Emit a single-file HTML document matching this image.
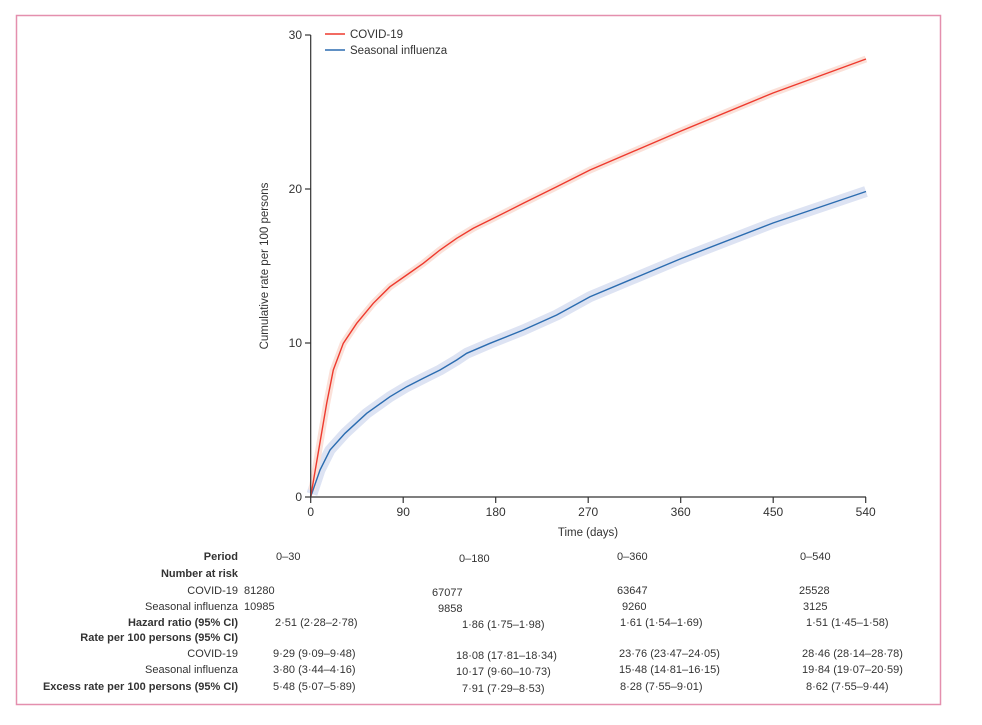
<!DOCTYPE html>
<html><head><meta charset="utf-8"><style>
body{margin:0;background:#fff;}
svg text{font-family:"Liberation Sans",sans-serif;fill:#333;}
</style></head><body>
<svg width="982" height="720" viewBox="0 0 982 720" xmlns="http://www.w3.org/2000/svg">
<rect x="16.5" y="15.5" width="924" height="689" fill="none" stroke="#e48fae" stroke-width="1.5"/>
<!-- bands -->
<polyline fill="none" stroke="#dde3f3" stroke-width="11" stroke-linejoin="round" points="312,494 320,470 330,450 345,433.3 366.7,413.3 390,396.7 406.7,386.7 423.3,378.3 440,370 456.7,360 466.7,353.3 490,343.3 523.3,330 556.7,315 590,296.7 681,258.6 773,223 866,191.5"/>
<polyline fill="none" stroke="#fbe1d9" stroke-width="7" stroke-linejoin="round" points="312,490 326.7,403.3 333.3,370 343.3,343.3 356.7,323.3 373.3,303.3 390,286.7 406.7,275 423.3,263.3 440,250 456.7,238.3 473.3,228.3 490,220 523.3,203.3 556.7,186.7 590,170 681,131 773,93 866,59"/>
<!-- lines -->
<polyline fill="none" stroke="#2b6cb0" stroke-width="1.4" points="310.7,496.7 320,470 330,450 345,433.3 366.7,413.3 390,396.7 406.7,386.7 423.3,378.3 440,370 456.7,360 466.7,353.3 490,343.3 523.3,330 556.7,315 590,296.7 681,258.6 773,223 866,191.5"/>
<polyline fill="none" stroke="#ee3a2e" stroke-width="1.4" points="310.7,496.7 326.7,403.3 333.3,370 343.3,343.3 356.7,323.3 373.3,303.3 390,286.7 406.7,275 423.3,263.3 440,250 456.7,238.3 473.3,228.3 490,220 523.3,203.3 556.7,186.7 590,170 681,131 773,93 866,59"/>
<!-- axes -->
<g stroke="#333" stroke-width="1.2" fill="none">
<line x1="310.7" y1="35" x2="310.7" y2="497"/>
<line x1="310.7" y1="497" x2="866" y2="497"/>
<line x1="305" y1="35" x2="310.7" y2="35"/>
<line x1="305" y1="189" x2="310.7" y2="189"/>
<line x1="305" y1="343" x2="310.7" y2="343"/>
<line x1="305" y1="497" x2="310.7" y2="497"/>
<line x1="310.7" y1="497" x2="310.7" y2="503"/>
<line x1="403.2" y1="497" x2="403.2" y2="503"/>
<line x1="495.7" y1="497" x2="495.7" y2="503"/>
<line x1="588.2" y1="497" x2="588.2" y2="503"/>
<line x1="680.7" y1="497" x2="680.7" y2="503"/>
<line x1="773.2" y1="497" x2="773.2" y2="503"/>
<line x1="865.7" y1="497" x2="865.7" y2="503"/>
</g>
<g font-size="12" text-anchor="end">
<text x="302" y="39">30</text><text x="302" y="193">20</text><text x="302" y="347">10</text><text x="302" y="501">0</text>
</g>
<g font-size="12" text-anchor="middle">
<text x="310.7" y="516">0</text><text x="403.2" y="516">90</text><text x="495.7" y="516">180</text><text x="588.2" y="516">270</text><text x="680.7" y="516">360</text><text x="773.2" y="516">450</text><text x="865.7" y="516">540</text>
<text x="588" y="536" font-size="11.5">Time (days)</text>
<text transform="translate(268,266) rotate(-90)" font-size="11.5">Cumulative rate per 100 persons</text>
</g>
<line x1="325" y1="34" x2="345" y2="34" stroke="#ee3a2e" stroke-width="1.4"/>
<line x1="325" y1="50" x2="345" y2="50" stroke="#2b6cb0" stroke-width="1.4"/>
<text x="350" y="38" font-size="11.5">COVID-19</text>
<text x="350" y="54" font-size="11.5">Seasonal influenza</text>
<!-- table -->
<g font-size="11" text-anchor="end">
<text x="238" y="560" font-weight="bold">Period</text>
<text x="238" y="577" font-weight="bold">Number at risk</text>
<text x="238" y="594">COVID-19</text>
<text x="238" y="610">Seasonal influenza</text>
<text x="238" y="626" font-weight="bold">Hazard ratio (95% CI)</text>
<text x="238" y="641" font-weight="bold">Rate per 100 persons (95% CI)</text>
<text x="238" y="657">COVID-19</text>
<text x="238" y="673">Seasonal influenza</text>
<text x="238" y="690" font-weight="bold">Excess rate per 100 persons (95% CI)</text>
</g>
<g font-size="11">
<text x="276" y="560">0–30</text><text x="459" y="562">0–180</text><text x="617" y="560">0–360</text><text x="800" y="560">0–540</text>
<text x="244" y="594">81280</text><text x="432" y="596">67077</text><text x="617" y="594">63647</text><text x="799" y="594">25528</text>
<text x="244" y="610">10985</text><text x="438" y="612">9858</text><text x="622" y="610">9260</text><text x="803" y="610">3125</text>
<text x="275" y="626">2·51 (2·28–2·78)</text><text x="462" y="628">1·86 (1·75–1·98)</text><text x="620" y="626">1·61 (1·54–1·69)</text><text x="806" y="626">1·51 (1·45–1·58)</text>
<text x="273" y="657">9·29 (9·09–9·48)</text><text x="456" y="659">18·08 (17·81–18·34)</text><text x="619" y="657">23·76 (23·47–24·05)</text><text x="802" y="657">28·46 (28·14–28·78)</text>
<text x="273" y="673">3·80 (3·44–4·16)</text><text x="456" y="675">10·17 (9·60–10·73)</text><text x="619" y="673">15·48 (14·81–16·15)</text><text x="802" y="673">19·84 (19·07–20·59)</text>
<text x="273" y="690">5·48 (5·07–5·89)</text><text x="462" y="692">7·91 (7·29–8·53)</text><text x="620" y="690">8·28 (7·55–9·01)</text><text x="806" y="690">8·62 (7·55–9·44)</text>
</g>
</svg>
</body></html>
